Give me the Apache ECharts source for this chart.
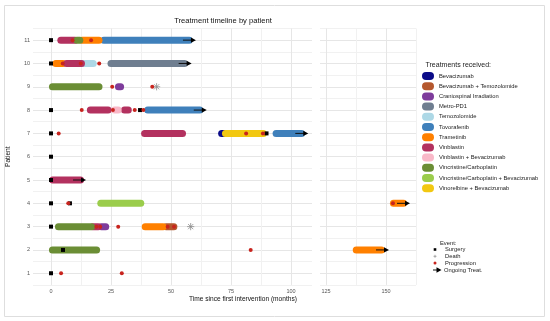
<!DOCTYPE html>
<html><head><meta charset="utf-8">
<script src="https://cdn.jsdelivr.net/npm/echarts@6/dist/echarts.min.js"></script>
<style>html,body{margin:0;padding:0;background:#fff}#c{width:550px;height:321px}</style>
</head><body><div id="c"></div>
<script>
const treatments = ['Bevacizumab','Bevacizumab + Temozolomide','Craniospinal Irradiation','Metro-PD1','Temozolomide','Tovorafenib','Trametinib','Vinblastin','Vinblastin + Bevacizumab','Vincristine/Carboplatin','Vincristine/Carboplatin + Bevacizumab','Vinorelbine + Bevacizumab'];
const treatmentColors = ['#0b0b88','#b5582e','#7e3c9c','#6f7e90','#add8e6','#3f80bb','#ff8000','#b3315f','#f9b8c8','#6b8e35','#9bcd4c','#f2c811'];
// [patient, start month, end month, treatment index]
const segments = [
  [11,4.1,10,7],[11,10.8,12,9],[11,13,20,6],[11,22,57.6,5],
  [10,2,5,6],[10,6.5,12.7,7],[10,13,17.6,4],[10,25,55.6,3],
  [9,0.6,20,9],[9,28.1,29,2],
  [8,16.4,23.8,7],[8,26.5,28,8],[8,30.6,32.2,7],[8,40.3,62,5],
  [7,39,54.8,7],[7,71.1,72,0],[7,72.7,88.5,11],[7,93.8,104.4,5],
  [5,0.7,12.3,7],
  [4,20.75,37.4,10],[4,153.1,157.3,6],
  [3,3.1,16.9,9],[3,17.5,19.7,7],[3,21,22.8,2],[3,39.25,46.75,6],[3,48,51.2,1],
  [2,0.6,19,9],[2,137.6,148.1,6]
];
// [month, patient]
const surgery = [[0,11],[0,10],[0,8],[37.1,8],[0,7],[89.8,7],[0,6],[0,5],[0,4],[7.9,4],[0,3],[5,2],[0,1]];
const progression = [[9,11],[16.7,11],[4.9,10],[12.4,10],[20.1,10],[25.5,9],[42.2,9],[12.8,8],[25.8,8],[34.9,8],[38.5,8],[3.2,7],[81.3,7],[88.3,7],[7.2,4],[152.9,4],[18.9,3],[20.5,3],[28,3],[48.6,3],[51.25,3],[83.2,2],[4.2,1],[29.5,1]];
const death = [[44,9],[58.2,3]];
const ongoing = [[60.4,11],[58.6,10],[64.9,8],[107.2,7],[14.6,5],[160,4],[151.25,2]];
const xTicksLeft = [0,25,50,75,100];
const xTicksRight = [125,150];
const patients = [1,2,3,4,5,6,7,8,9,10,11];

const BREAK_AT = 115;
const FONT = "'Liberation Sans', Arial, sans-serif";
const inPanel = (t, panel) => panel === 0 ? t < BREAK_AT : t >= BREAK_AT;
const withMinor = ticks => { const out = []; ticks.forEach(v => { out.push(v); out.push(v + 12.5); }); return out; };

function renderSeg(params, api) {
  const y = api.value(2);
  const a = api.coord([api.value(0), y]);
  const b = api.coord([api.value(1), y]);
  return {type:'line', shape:{x1:a[0], y1:a[1], x2:b[0], y2:b[1]},
    style:{stroke: api.visual('color'), lineWidth: 7, lineCap:'round'}};
}
function renderDeath(params, api) {
  const p = api.coord([api.value(0), api.value(1)]);
  const r = 3.6, d = r * 0.72, st = {stroke:'#8a8a8a', lineWidth:0.8};
  return {type:'group', children:[
    {type:'line', shape:{x1:p[0]-r,y1:p[1],x2:p[0]+r,y2:p[1]}, style:st},
    {type:'line', shape:{x1:p[0],y1:p[1]-r,x2:p[0],y2:p[1]+r}, style:st},
    {type:'line', shape:{x1:p[0]-d,y1:p[1]-d,x2:p[0]+d,y2:p[1]+d}, style:st},
    {type:'line', shape:{x1:p[0]-d,y1:p[1]+d,x2:p[0]+d,y2:p[1]-d}, style:st}
  ]};
}
function renderArrow(params, api) {
  const p = api.coord([api.value(0), api.value(1)]);
  return {type:'group', children:[
    {type:'line', shape:{x1:p[0]-13,y1:p[1],x2:p[0]-3,y2:p[1]}, style:{stroke:'#111', lineWidth:1}},
    {type:'polygon', shape:{points:[[p[0]-5,p[1]-2.6],[p[0],p[1]],[p[0]-5,p[1]+2.6]]}, style:{fill:'#000'}}
  ]};
}

const series = [];
[0,1].forEach(panel => {
  treatments.forEach((name, k) => {
    series.push({
      type:'custom', name, xAxisIndex:panel, yAxisIndex:panel, z:2,
      itemStyle:{color: treatmentColors[k]},
      encode:{x:[0,1], y:2},
      renderItem: renderSeg,
      data: segments.filter(s => s[3] === k && inPanel(s[1], panel)).map(s => [s[1], s[2], s[0]])
    });
  });
  series.push({type:'custom', name:'Ongoing Treat.', xAxisIndex:panel, yAxisIndex:panel, z:3,
    encode:{x:0, y:1}, renderItem: renderArrow, data: ongoing.filter(d => inPanel(d[0], panel))});
  series.push({type:'custom', name:'Death', xAxisIndex:panel, yAxisIndex:panel, z:4,
    encode:{x:0, y:1}, renderItem: renderDeath, data: death.filter(d => inPanel(d[0], panel))});
  series.push({type:'scatter', name:'Surgery', xAxisIndex:panel, yAxisIndex:panel, z:5,
    symbol:'rect', symbolSize:4, itemStyle:{color:'#000', opacity:1},
    data: surgery.filter(d => inPanel(d[0], panel))});
  series.push({type:'scatter', name:'Progression', xAxisIndex:panel, yAxisIndex:panel, z:6,
    symbol:'circle', symbolSize:4, itemStyle:{color:'#c8241e', opacity:1},
    data: progression.filter(d => inPanel(d[0], panel))});
});

const gridTop = 28.5, gridH = 256.4;
const yAxisBase = (panel) => ({
  type:'value', gridIndex:panel, min:0.5, max:11.5, interval:0.5,
  axisLine:{show:false}, axisTick:{show:false},
  axisLabel:{show: panel === 0, formatter: v => patients.indexOf(v) >= 0 ? String(v) : '',
    fontSize:5.5, color:'#555', margin:3, fontFamily:FONT},
  splitLine:{lineStyle:{color:['#f1f1f1','#e6e6e6'], width:1}}
});
const xAxisBase = (panel, ticks, min, max) => ({
  type:'value', gridIndex:panel, min, max,
  axisLine:{show:false},
  axisTick:{show:false, customValues: withMinor(ticks).filter(v => v <= max)},
  axisLabel:{customValues: ticks, fontSize:5.5, color:'#555', margin:3.5, fontFamily:FONT},
  splitLine:{show:true, lineStyle:{color:['#e6e6e6','#f1f1f1'], width:1}}
});

const pill = 'path://M4,0H8A4,4,0,0,1,8,8H4A4,4,0,0,1,4,0Z';
const ev = {fontSize:5.8, fill:'#222', fontFamily:FONT, verticalAlign:'middle'};

const option = {
  backgroundColor:'#fff',
  animation:false,
  grid:[
    {left:33, top:gridTop, width:279, height:gridH, outerBoundsMode:'none'},
    {left:320, top:gridTop, width:96, height:gridH, outerBoundsMode:'none'}
  ],
  xAxis:[xAxisBase(0, xTicksLeft, -7.5, 108.75), xAxisBase(1, xTicksRight, 122.5, 162.5)],
  yAxis:[
    Object.assign(yAxisBase(0), {name:'Patient', nameLocation:'middle', nameRotate:90, nameGap:21,
      nameTextStyle:{fontSize:6.6, color:'#111', fontFamily:FONT}}),
    yAxisBase(1)
  ],
  legend:{
    orient:'vertical', left:422, top:72, padding:0, itemWidth:12, itemHeight:8, itemGap:2.2,
    icon: pill, selectedMode:false, data: treatments,
    textStyle:{fontSize:5.8, color:'#222', fontFamily:FONT}
  },
  graphic:[
    {type:'rect', shape:{x:4.5, y:5.5, width:540, height:311}, style:{fill:'none', stroke:'#dedede', lineWidth:1}, silent:true},
    {type:'text', x:223, y:21, style:{text:'Treatment timeline by patient', fontSize:7.6, fill:'#111', fontFamily:FONT, align:'center', verticalAlign:'middle'}},
    {type:'text', x:243, y:299, style:{text:'Time since first intervention (months)', fontSize:6.6, fill:'#111', fontFamily:FONT, align:'center', verticalAlign:'middle'}},
    {type:'text', x:425.5, y:65, style:{text:'Treatments received:', fontSize:7, fill:'#222', fontFamily:FONT, verticalAlign:'middle'}},
    {type:'text', x:440, y:243, style:Object.assign({text:'Event:'}, ev)},
    {type:'rect', shape:{x:433.7, y:248.2, width:2.6, height:2.6}, style:{fill:'#000'}},
    {type:'text', x:445, y:249.5, style:Object.assign({text:'Surgery'}, ev)},
    {type:'line', shape:{x1:433.5,y1:256.3,x2:436.5,y2:256.3}, style:{stroke:'#8a8a8a', lineWidth:0.7}},
    {type:'line', shape:{x1:435,y1:254.8,x2:435,y2:257.8}, style:{stroke:'#8a8a8a', lineWidth:0.7}},
    {type:'text', x:445, y:256.3, style:Object.assign({text:'Death'}, ev)},
    {type:'circle', shape:{cx:435, cy:263.1, r:1.5}, style:{fill:'#c8241e'}},
    {type:'text', x:445, y:263.1, style:Object.assign({text:'Progression'}, ev)},
    {type:'line', shape:{x1:433,y1:270,x2:437,y2:270}, style:{stroke:'#111', lineWidth:1}},
    {type:'polygon', shape:{points:[[436.5,267.3],[441.5,270],[436.5,272.7]]}, style:{fill:'#000'}},
    {type:'text', x:444, y:270, style:Object.assign({text:'Ongoing Treat.'}, ev)}
  ],
  series
};
const chart = echarts.init(document.getElementById('c'), null, {renderer:'canvas'});
chart.setOption(option);
</script>
</body></html>
